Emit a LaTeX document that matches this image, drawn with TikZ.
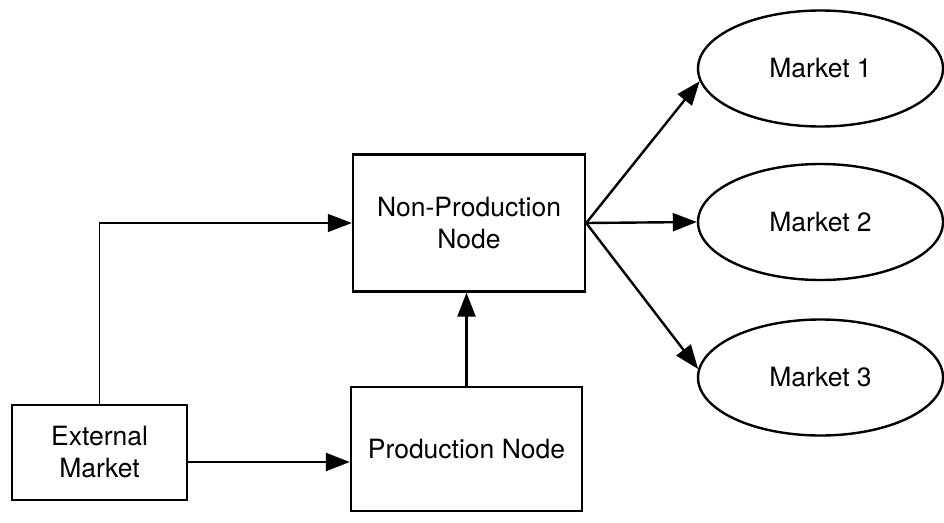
\documentclass[tikz,border=0pt]{standalone}
\usepackage{fontspec}
\setmainfont{TeX Gyre Heros}
\usetikzlibrary{arrows.meta,shapes.geometric}

\begin{document}
\begin{tikzpicture}[x=1pt,y=-1pt,
  every node/.style={font=\fontsize{26.5}{32}\selectfont, align=center, inner sep=0pt},
  box/.style={draw, line width=2.4pt, rectangle},
  mkt/.style={draw, line width=2.4pt, ellipse, minimum width=245pt, minimum height=116pt},
  flow/.style={line width=2.4pt, -{Triangle[length=24pt,width=18pt]}},
  thinflow/.style={line width=1.4pt, -{Triangle[length=24pt,width=18pt]}}
]
\useasboundingbox (0,0) rectangle (944,522);

% boxes
\node[box, minimum width=175pt, minimum height=95pt] (ext) at (99.5,452.5) {External\\Market};
\node[box, minimum width=231pt, minimum height=124pt] (prod) at (466.5,449) {Production Node};
\node[box, minimum width=232pt, minimum height=137pt] (np) at (469,223) {Non-Production\\Node};

% markets
\node[mkt] (m1) at (820.5,68.5) {Market 1};
\node[mkt] (m2) at (820.5,222) {Market 2};
\node[mkt] (m3) at (820.5,377.5) {Market 3};

% connectors
\draw[thinflow] (ext.north) |- (np.west);
\draw[flow] ([yshift=-9.5pt]ext.east) -- ([yshift=-9.5pt]ext.east -| prod.west);
\draw[flow] (prod.north) -- (prod.north |- np.south);
\draw[flow] (np.east) -- (m1.186);
\draw[flow] (np.east) -- (m2.west);
\draw[flow] (np.east) -- (m3.176);
\end{tikzpicture}
\end{document}
